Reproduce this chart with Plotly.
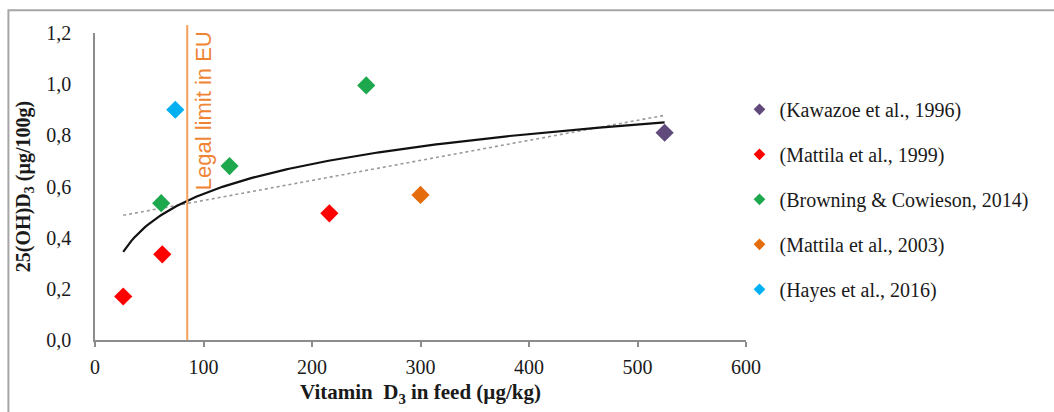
import numpy as np
import plotly.graph_objects as go

# ---- data ----
series_names = ["(Kawazoe et al., 1996)", "(Mattila et al., 1999)",
                "(Browning & Cowieson, 2014)", "(Mattila et al., 2003)",
                "(Hayes et al., 2016)"]
kawazoe_x = [525]
kawazoe_y = [0.81]
mattila99_x = [26, 62, 216]
mattila99_y = [0.17, 0.335, 0.495]
browning_x = [61, 124, 250]
browning_y = [0.535, 0.68, 0.995]
mattila03_x = [300]
mattila03_y = [0.567]
hayes_x = [74]
hayes_y = [0.90]
legal_limit = 85
x_ticks = [0, 100, 200, 300, 400, 500, 600]
y_ticks = [0.0, 0.2, 0.4, 0.6, 0.8, 1.0, 1.2]

colors = ["#604a7b", "#ff0000", "#1ea84e", "#e46c0a", "#00b0f0"]
xs = [kawazoe_x, mattila99_x, browning_x, mattila03_x, hayes_x]
ys = [kawazoe_y, mattila99_y, browning_y, mattila03_y, hayes_y]

fig = go.Figure()

# trendlines (Excel-style fits over all points)
all_x = np.array(sum(xs, []), dtype=float)
all_y = np.array(sum(ys, []), dtype=float)
b_log, a_log = np.polyfit(np.log(all_x), all_y, 1)
b_lin, a_lin = np.polyfit(all_x, all_y, 1)
tx = np.linspace(all_x.min(), all_x.max(), 200)
fig.add_trace(go.Scatter(x=tx, y=b_lin * tx + a_lin, mode="lines",
                         line=dict(color="#9a9a9a", width=1.6, dash="dot"),
                         showlegend=False, hoverinfo="skip"))
fig.add_trace(go.Scatter(x=tx, y=b_log * np.log(tx) + a_log, mode="lines",
                         line=dict(color="#111111", width=2.2),
                         showlegend=False, hoverinfo="skip"))

for name, x, y, c in zip(series_names, xs, ys, colors):
    fig.add_trace(go.Scatter(x=x, y=y, mode="markers", name=name,
                             marker=dict(symbol="diamond", size=14, color=c),
                             showlegend=False))
for i, (name, c) in enumerate(zip(series_names, colors)):
    fig.add_trace(go.Scatter(x=[None], y=[None], mode="markers", name=name,
                             legendgroup=f"g{i}",
                             marker=dict(symbol="diamond", size=9, color=c)))

# legal limit line
fig.add_shape(type="line", xref="x", yref="paper", x0=legal_limit, x1=legal_limit,
              y0=0, y1=1.026, line=dict(color="#f5a05a", width=2))
fig.add_annotation(x=legal_limit, xref="x", y=0.895, yref="y", xshift=16,
                   text="Legal limit in EU", textangle=-90, showarrow=False,
                   font=dict(family="Liberation Sans, Arial", size=22, color="#ee8434"))

# outer frame (only top and left visible)
fig.add_shape(type="rect", xref="paper", yref="paper", x0=-0.133, x1=1.7,
              y0=-0.4, y1=1.074, line=dict(color="#a6a6a6", width=2),
              layer="below")

axis_font = dict(family="Liberation Serif, Times New Roman", size=20, color="#1a1a1a")
title_font = dict(family="Liberation Serif, Times New Roman", size=21, color="#1a1a1a")
fig.update_layout(
    width=1054, height=412,
    margin=dict(l=95, r=308, t=33, b=70),
    paper_bgcolor="white", plot_bgcolor="white",
    separators=", ",
    showlegend=True,
    legend=dict(x=0.99, xanchor="left", y=0.815, yanchor="top",
                font=dict(family="Liberation Serif, Times New Roman", size=20, color="#1a1a1a"),
                tracegroupgap=16, traceorder="grouped", itemwidth=30,
                bgcolor="rgba(0,0,0,0)"),
    xaxis=dict(range=[0, 600], tickvals=x_ticks, showgrid=False, zeroline=False,
               showline=True, linecolor="#8c8c8c", linewidth=1.5,
               ticks="outside", ticklen=5, tickcolor="#8c8c8c", tickwidth=1.5,
               tickfont=axis_font, ticklabelstandoff=3,
               title=dict(text="<b>Vitamin  D<sub>3</sub> in feed (µg/kg)</b>",
                          font=title_font, standoff=8)),
    yaxis=dict(range=[0, 1.2], tickvals=y_ticks, tickformat=".1f", showgrid=False,
               zeroline=False, showline=True, linecolor="#8c8c8c", linewidth=1.5,
               ticks="", tickfont=axis_font, ticklabelstandoff=18,
               title=dict(text="<b>25(OH)D<sub>3</sub> (µg/100g)</b>",
                          font=axis_font, standoff=10)),
)

fig.write_html("out.html")
